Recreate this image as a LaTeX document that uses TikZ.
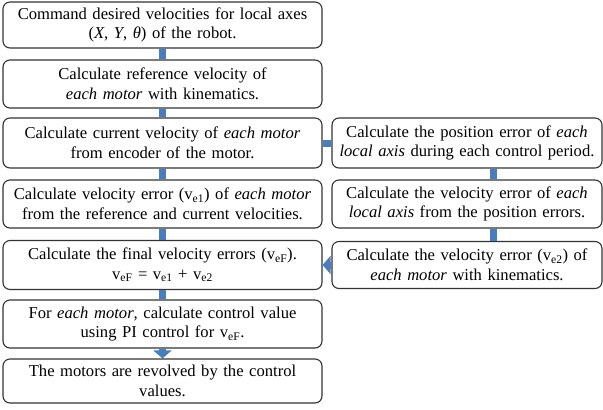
\documentclass[tikz,border=0pt]{standalone}
\usepackage{fontspec}
\setmainfont{Liberation Serif}
\usetikzlibrary{shapes, arrows.meta, positioning}

\definecolor{barblue}{HTML}{4A7EBB}

\begin{document}
\begin{tikzpicture}[x=1pt, y=-1pt, font=\fontsize{16.6}{19.5}\selectfont]
    \tikzstyle{stepbox} = [draw=black!80, line width=1.1pt, rectangle, fill=white, rounded corners=7pt, align=center, inner xsep=1pt, inner ysep=0pt]
    \tikzstyle{leftbox} = [stepbox, text width=317pt]
    \tikzstyle{rightbox} = [stepbox, text width=268pt]
    \tikzstyle{bar} = [draw=barblue, line width=7pt]
    \tikzstyle{bararrow} = [bar, -{Triangle[width=18pt, length=8pt]}]

    \useasboundingbox (0,0) rectangle (603,410);

    % left column
    \node[leftbox, minimum height=46pt] (command) at (162.5, 25) {Command desired velocities for local axes\\(\textit{X}, \textit{Y}, \textit{θ}) of the robot.};
    \node[leftbox, minimum height=48pt] (ref_vel) at (162.5, 84) {Calculate reference velocity of\\\textit{each motor} with kinematics.};
    \node[leftbox, minimum height=50pt] (cur_vel) at (162.5, 143) {Calculate current velocity of \textit{each motor}\\from encoder of the motor.};
    \node[leftbox, minimum height=48pt] (vel_err_one) at (162.5, 204) {Calculate velocity error (v\textsubscript{e1}) of \textit{each motor}\\from the reference and current velocities.};
    \node[leftbox, minimum height=49pt] (final_err) at (162.5, 265) {Calculate the final velocity errors (v\textsubscript{eF}).\\v\textsubscript{eF} = v\textsubscript{e1} + v\textsubscript{e2}};
    \node[leftbox, minimum height=48pt] (control) at (162.5, 324) {For \textit{each motor}, calculate control value\\using PI control for v\textsubscript{eF}.};
    \node[leftbox, minimum height=44pt] (revolve) at (162.5, 381) {The motors are revolved by the control\\values.};

    % right column
    \node[rightbox, minimum height=50pt] (pos_err) at (467, 143) {Calculate the position error of \textit{each}\\\textit{local axis} during each control period.};
    \node[rightbox, minimum height=48pt] (vel_err_axis) at (467, 204) {Calculate the velocity error of \textit{each}\\\textit{local axis} from the position errors.};
    \node[rightbox, minimum height=47pt] (vel_err_two) at (467, 265) {Calculate the velocity error (v\textsubscript{e2}) of\\\textit{each motor} with kinematics.};

    % connectors
    \draw[bar] (command) -- (ref_vel);
    \draw[bar] (ref_vel) -- (cur_vel);
    \draw[bar] (cur_vel) -- (vel_err_one);
    \draw[bar] (vel_err_one) -- (final_err);
    \draw[bar] (final_err) -- (control);
    \draw[bararrow] (control) -- (revolve);
    \draw[bar] (cur_vel) -- (pos_err);
    \draw[bar] ([xshift=26pt]pos_err.south) -- ([xshift=26pt]vel_err_axis.north);
    \draw[bar] ([xshift=26pt]vel_err_axis.south) -- ([xshift=26pt]vel_err_two.north);
    \draw[bararrow] (vel_err_two) -- (final_err);
\end{tikzpicture}
\end{document}
